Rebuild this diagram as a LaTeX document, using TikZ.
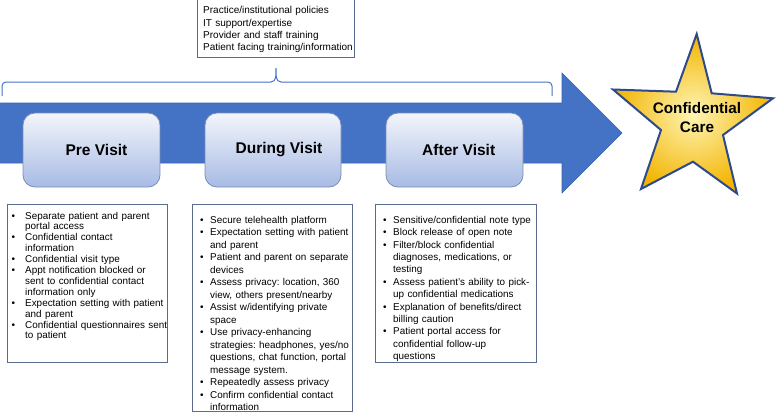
\documentclass[tikz,border=0pt]{standalone}
\usepackage{fontspec}
\setmainfont{Liberation Sans}
\usetikzlibrary{shapes.geometric}
\definecolor{arrowblue}{HTML}{4472C4}
\definecolor{arrowedge}{HTML}{3A64B4}
\definecolor{stageedge}{HTML}{7A8DB8}
\definecolor{stagetop}{HTML}{F3F5FB}
\definecolor{stagebot}{HTML}{A7BBE4}
\definecolor{listedge}{HTML}{5B6B8E}
\definecolor{stargold}{HTML}{F2B400}
\definecolor{starlight}{HTML}{FFF5B5}
\definecolor{staredge}{HTML}{2E4A8B}
\newlength{\bulletoff}
\newcommand{\bitem}[1]{\par\noindent\hangindent=18pt\hangafter=1\makebox[18pt][l]{\hspace{\bulletoff}•}#1}
\tikzset{
  stagebox/.style={draw=stageedge, line width=0.8pt, rounded corners=12pt, shading=axis, top color=stagetop, bottom color=stagebot},
  stagelabel/.style={font=\bfseries\fontsize{15.5}{18}\selectfont, inner sep=0pt},
  listbox/.style={draw=listedge, line width=0.9pt},
  listtext/.style={anchor=north west, inner sep=0pt, text width=220pt, align=left},
}
\begin{document}
\frenchspacing
\begin{tikzpicture}[x=1pt,y=-1pt]
\useasboundingbox (0,0) rectangle (776,413);
% top box
\draw[listbox] (197,-1) rectangle (354,57);
\node[listtext, font=\fontsize{10}{12.2}\selectfont] (factors) at (203,5.6) {\frenchspacing\rule{0pt}{8pt}Practice/institutional policies\newline IT support/expertise\newline Provider and staff training\newline Patient facing training/information};
% brace
\draw[arrowblue, line width=1pt] (2,96) -- (2,86) to[out=90,in=180] (6,82) -- (271,82) to[out=0,in=-90] (276,68) to[out=-90,in=180] (281,82) -- (548,82) to[out=0,in=90] (552,86) -- (552,96);
% main arrow
\draw[fill=arrowblue, draw=arrowedge, line width=0.6pt] (-1,103) -- (562,103) -- (562,73) -- (622,133) -- (562,193) -- (562,163) -- (-1,163) -- cycle;
% stage boxes
\draw[stagebox] (23,113) rectangle (160,187);
\draw[stagebox] (205,113) rectangle (341,187);
\draw[stagebox] (386,113) rectangle (523,187);
\node[stagelabel] (pre) at (96.5,150) {Pre Visit};
\node[stagelabel] (during) at (279,150) {During Visit};
\node[stagelabel] (after) at (458.7,150) {After Visit};
% star
\draw[staredge, line width=2pt, line join=miter, shading=radial, inner color=starlight, outer color=stargold]
  (696.7,34) -- (711.7,93.3) -- (773,98.3) -- (723,135) -- (737,193.5) -- (693,161.7) -- (641,189) -- (661,130) -- (613,89.5) -- (676,91.7) -- cycle;
\node[font=\bfseries\fontsize{15.3}{19}\selectfont, align=center, inner sep=0pt] (care) at (697,117.5) {Confidential\\Care};
% list boxes
\draw[listbox] (7,204) rectangle (167,362);
\draw[listbox] (192,204) rectangle (352,411);
\draw[listbox] (375,204) rectangle (536,362);
\node[listtext, font=\fontsize{9.9}{10.9}\selectfont] (prelist) at (7,207.9) {\frenchspacing\setlength{\bulletoff}{4.5pt}%
\bitem{\rule{0pt}{8pt}Separate patient and parent\newline portal access}
\bitem{Confidential contact\newline information}
\bitem{Confidential visit type}
\bitem{Appt notification blocked or\newline sent to confidential contact\newline information only}
\bitem{Expectation setting with patient\newline and parent}
\bitem{Confidential questionnaires sent\newline to patient}\par};
\node[listtext, font=\fontsize{9.9}{12.5}\selectfont] (duringlist) at (192,210.6) {\frenchspacing\setlength{\bulletoff}{8pt}%
\bitem{\rule{0pt}{8pt}Secure telehealth platform}
\bitem{Expectation setting with patient\newline and parent}
\bitem{Patient and parent on separate\newline devices}
\bitem{Assess privacy: location, 360\newline view, others present/nearby}
\bitem{Assist w/identifying private\newline space}
\bitem{Use privacy-enhancing\newline strategies: headphones, yes/no\newline questions, chat function, portal\newline message system.}
\bitem{Repeatedly assess privacy}
\bitem{Confirm confidential contact\newline information}\par};
\node[listtext, font=\fontsize{9.9}{12.4}\selectfont] (afterlist) at (375,210.6) {\frenchspacing\setlength{\bulletoff}{8pt}%
\bitem{\rule{0pt}{8pt}Sensitive/confidential note type}
\bitem{Block release of open note}
\bitem{Filter/block confidential\newline diagnoses, medications, or\newline testing}
\bitem{Assess patient’s ability to pick-\newline up confidential medications}
\bitem{Explanation of benefits/direct\newline billing caution}
\bitem{Patient portal access for\newline confidential follow-up\newline questions}\par};
\end{tikzpicture}
\end{document}
